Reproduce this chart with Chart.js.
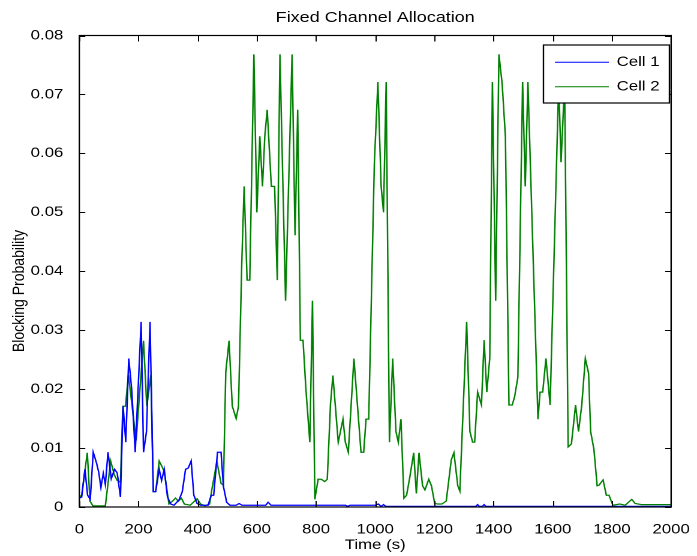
<!DOCTYPE html>
<html>
<head>
<meta charset="utf-8">
<title>Fixed Channel Allocation</title>
<script src="https://cdn.jsdelivr.net/npm/chart.js@4/dist/chart.umd.min.js"></script>
<style>
  html, body { margin: 0; padding: 0; background: #fff; overflow: hidden; }
  /* figure was exported wider than tall, so the whole canvas is stretched sideways */
  #wrap { width: 581px; height: 556px; transform: scaleX(1.19966); transform-origin: 0 0; }
</style>
</head>
<body>
<div id="wrap"><canvas id="fca"></canvas></div>
<script>
// simulation output: blocking probability per cell over time (s)
var cell1Time = [0, 8, 19, 28, 37, 47, 58, 66, 73, 81, 88, 97, 108, 119, 128, 139,
  148, 157, 167, 177, 189, 209, 217, 227, 239, 250, 258, 270, 278, 287, 298, 309,
  320, 337, 348, 359, 368, 378, 387, 398, 410, 435, 446, 454, 467, 479, 487, 498,
  509, 530, 540, 550, 630, 638, 648, 900, 906, 915, 1000, 1011, 1020, 1028, 1036,
  1340, 1346, 1352, 1362, 1368, 1374, 2000];
var cell1Prob = [0.0015, 0.0017, 0.0064, 0.0020, 0.0013, 0.0093, 0.0075, 0.0058, 0.0033, 0.0057, 0.0038, 0.0093, 0.0048, 0.0064, 0.0058, 0.0017,
  0.0171, 0.0110, 0.0252, 0.0200, 0.0093, 0.0314, 0.0093, 0.0128, 0.0314, 0.0026, 0.0026, 0.0064, 0.0045, 0.0064, 0.0017, 0.0005,
  0.0003, 0.0012, 0.0026, 0.0064, 0.0066, 0.0078, 0.0020, 0.0006, 0.0003, 0.0003, 0.0020, 0.0020, 0.0093, 0.0093, 0.0035, 0.0008,
  0.0003, 0.0003, 0.0006, 0.0003, 0.0003, 0.0008, 0.0003, 0.0003, 0.0001, 0.0003, 0.0003, 0.0005, 0.0001, 0.0004, 0.0001,
  0.0001, 0.0004, 0.0001, 0.0001, 0.0004, 0.0001, 0.0001];

var cell2Time = [0, 8, 27, 36, 46, 60, 88, 106, 118, 128, 139, 147, 156, 166, 192, 217,
  228, 242, 250, 258, 270, 280, 287, 303, 315, 325, 335, 345, 355, 375, 398, 410,
  425, 440, 448, 465, 479, 487, 495, 506, 517, 530, 538, 549, 557, 567, 576, 590,
  600, 610, 619, 627, 635, 649, 660, 669, 678, 697, 719, 729, 738, 747, 756, 766,
  779, 788, 796, 807, 818, 829, 838, 849, 857, 875, 891, 899, 909, 928, 952, 961,
  969, 978, 997, 1009, 1020, 1028, 1037, 1048, 1059, 1070, 1078, 1087, 1097, 1106, 1117, 1130,
  1139, 1148, 1160, 1168, 1181, 1190, 1201, 1212, 1225, 1240, 1257, 1266, 1279, 1286, 1309, 1320,
  1329, 1336, 1346, 1359, 1368, 1377, 1387, 1396, 1407, 1418, 1429, 1440, 1452, 1463, 1471, 1482,
  1498, 1507, 1516, 1550, 1557, 1566, 1577, 1591, 1620, 1628, 1640, 1652, 1663, 1677, 1687, 1698,
  1710, 1721, 1728, 1739, 1750, 1756, 1770, 1781, 1790, 1803, 1826, 1845, 1867, 1878, 1900, 2000];
var cell2Prob = [0.0017, 0.0020, 0.0092, 0.0010, 0.0002, 0.0002, 0.0002, 0.0078, 0.0055, 0.0045, 0.0042, 0.0171, 0.0171, 0.0224, 0.0113, 0.0282,
  0.0171, 0.0224, 0.0026, 0.0026, 0.0078, 0.0068, 0.0060, 0.0005, 0.0010, 0.0015, 0.0010, 0.0015, 0.0005, 0.0003, 0.0014, 0.0005,
  0.0002, 0.0005, 0.0030, 0.0077, 0.0040, 0.0037, 0.0229, 0.0282, 0.0171, 0.0150, 0.0171, 0.0413, 0.0544, 0.0385, 0.0385, 0.0768,
  0.0500, 0.0629, 0.0544, 0.0630, 0.0674, 0.0544, 0.0544, 0.0385, 0.0768, 0.0350, 0.0768, 0.0461, 0.0674, 0.0283, 0.0283, 0.0198,
  0.0110, 0.0350, 0.0013, 0.0047, 0.0047, 0.0043, 0.0047, 0.0176, 0.0223, 0.0110, 0.0149, 0.0110, 0.0093, 0.0252, 0.0093, 0.0093,
  0.0149, 0.0149, 0.0582, 0.0721, 0.0544, 0.0500, 0.0721, 0.0110, 0.0252, 0.0128, 0.0110, 0.0149, 0.0015, 0.0020, 0.0051, 0.0092,
  0.0023, 0.0092, 0.0036, 0.0029, 0.0047, 0.0036, 0.0006, 0.0005, 0.0005, 0.0010, 0.0080, 0.0092, 0.0036, 0.0027, 0.0314, 0.0128,
  0.0110, 0.0110, 0.0195, 0.0173, 0.0283, 0.0195, 0.0252, 0.0721, 0.0350, 0.0768, 0.0718, 0.0628, 0.0173, 0.0173, 0.0187, 0.0220,
  0.0721, 0.0544, 0.0721, 0.0149, 0.0195, 0.0195, 0.0252, 0.0173, 0.0720, 0.0585, 0.0720, 0.0102, 0.0107, 0.0173, 0.0128, 0.0173,
  0.0252, 0.0227, 0.0128, 0.0098, 0.0036, 0.0037, 0.0046, 0.0020, 0.0020, 0.0003, 0.0005, 0.0003, 0.0013, 0.0006, 0.0004, 0.0004];

var seriesNames = ['Cell 1', 'Cell 2'];
var timeTicks = [0, 200, 400, 600, 800, 1000, 1200, 1400, 1600, 1800, 2000];
var probTicks = [0, 0.01, 0.02, 0.03, 0.04, 0.05, 0.06, 0.07, 0.08];

var FONT = '"Liberation Sans", Arial, Helvetica, sans-serif';

function toPoints(t, v) {
  var pts = [];
  for (var i = 0; i < t.length; i++) {
    pts.push({x: t[i], y: v[i]});
  }
  return pts;
}

// box round the axes, inward ticks on all four sides, legend and y label
var matlabAxes = {
  id: 'matlabAxes',
  afterDraw: function(chart) {
    var ctx = chart.ctx;
    var a = chart.chartArea;
    var xs = chart.scales.x, ys = chart.scales.y;
    ctx.save();
    ctx.strokeStyle = '#000';
    ctx.lineWidth = 1;

    ctx.beginPath();
    timeTicks.forEach(function(t) {
      var px = Math.round(xs.getPixelForValue(t)) + 0.5;
      ctx.moveTo(px, a.bottom); ctx.lineTo(px, a.bottom - 6);
      ctx.moveTo(px, a.top); ctx.lineTo(px, a.top + 6);
    });
    probTicks.forEach(function(p) {
      var py = Math.round(ys.getPixelForValue(p)) + 0.5;
      ctx.moveTo(a.left, py); ctx.lineTo(a.left + 5, py);
      ctx.moveTo(a.right, py); ctx.lineTo(a.right - 5, py);
    });
    ctx.stroke();

    ctx.lineWidth = 1.2;
    ctx.strokeRect(a.left, a.top, a.right - a.left, a.bottom - a.top);

    // legend, top right inside the axes
    var lx = 453, ly = 45, lw = 105, lh = 58;
    ctx.fillStyle = '#fff';
    ctx.fillRect(lx, ly, lw, lh);
    ctx.lineWidth = 1.2;
    ctx.strokeRect(lx, ly, lw, lh);
    ctx.font = '14px ' + FONT;
    ctx.textBaseline = 'middle';
    ctx.textAlign = 'left';
    chart.data.datasets.forEach(function(ds, i) {
      var y = ly + 17.3 + i * 24.4;
      ctx.strokeStyle = ds.borderColor;
      ctx.lineWidth = 1;
      ctx.beginPath();
      ctx.moveTo(462.5, y); ctx.lineTo(507.5, y);
      ctx.stroke();
      ctx.fillStyle = '#000';
      ctx.fillText(ds.label, 514, y);
    });

    ctx.translate(16, 291);
    ctx.rotate(-Math.PI / 2);
    ctx.textAlign = 'center';
    ctx.fillText('Blocking Probability', 0, 0);
    ctx.restore();
  }
};

Chart.defaults.color = '#000';
Chart.defaults.font.family = FONT;

var chart = new Chart(document.getElementById('fca'), {
  type: 'line',
  data: {
    datasets: [{
      label: seriesNames[0],
      data: toPoints(cell1Time, cell1Prob),
      borderColor: '#0000ff',
      borderWidth: 1.25,
      pointRadius: 0,
      tension: 0
    }, {
      label: seriesNames[1],
      data: toPoints(cell2Time, cell2Prob),
      borderColor: '#008000',
      borderWidth: 1.25,
      pointRadius: 0,
      tension: 0
    }]
  },
  plugins: [matlabAxes],
  options: {
    responsive: true,
    maintainAspectRatio: false,
    devicePixelRatio: 2,
    animation: false,
    events: [],
    layout: { padding: 0 },
    plugins: {
      legend: { display: false },
      tooltip: { enabled: false },
      title: {
        display: true,
        fullSize: false,
        text: 'Fixed Channel Allocation',
        font: { size: 15, weight: 'normal', family: FONT },
        color: '#000',
        padding: { top: 9, bottom: 8.5 }
      }
    },
    scales: {
      x: {
        type: 'linear',
        min: 0,
        max: 2000,
        grid: { display: false },
        border: { display: false },
        afterBuildTicks: function(scale) {
          scale.ticks = timeTicks.map(function(v) { return {value: v}; });
        },
        afterFit: function(scale) { scale.height = 49; },
        ticks: {
          autoSkip: false,
          maxRotation: 0,
          padding: 6,
          font: { size: 14 },
          callback: function(v) { return String(v); }
        },
        title: {
          display: true,
          text: 'Time (s)',
          font: { size: 14 },
          padding: { top: 0, bottom: 2.6 }
        }
      },
      y: {
        min: 0,
        max: 0.08,
        grid: { display: false },
        border: { display: false },
        afterBuildTicks: function(scale) {
          scale.ticks = probTicks.map(function(v) { return {value: v}; });
        },
        afterFit: function(scale) { scale.width = 66.1; },
        ticks: {
          autoSkip: false,
          padding: 5.3,
          font: { size: 14 },
          callback: function(v) { return v === 0 ? '0' : v.toFixed(2); }
        }
      }
    }
  }
});
</script>
</body>
</html>
